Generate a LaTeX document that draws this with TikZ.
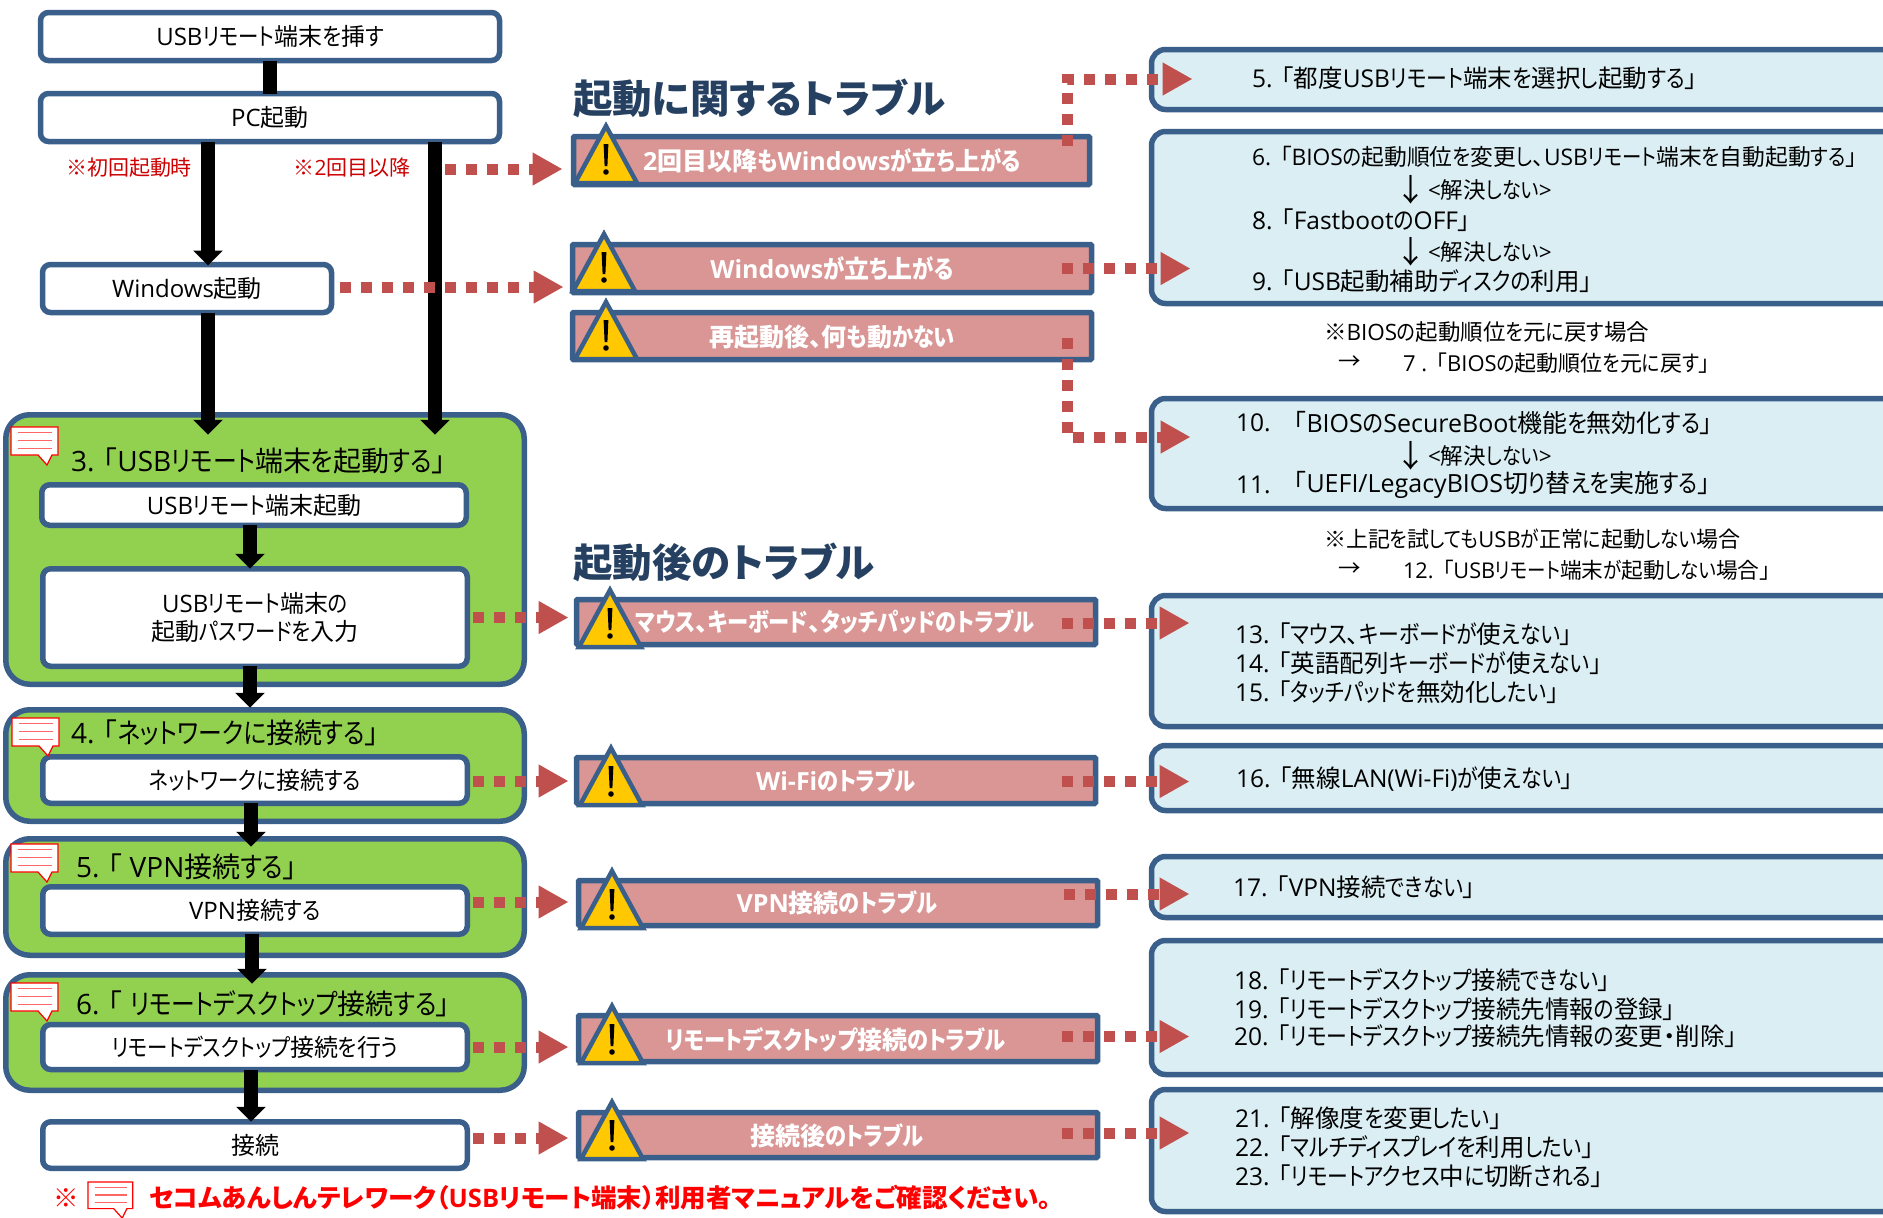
\documentclass[tikz,border=0pt]{standalone}
\usepackage{fontspec}
\usetikzlibrary{arrows.meta}
\setmainfont{Open Sans}
\newfontfamily\lat{Open Sans}
\newfontfamily\jp[RawFeature=+palt]{Noto Sans CJK JP}
\newfontfamily\jk[RawFeature=+palt,FakeStretch=0.85]{Noto Sans CJK JP}
\let\kn\jk
\XeTeXinterchartokenstate=1
\chardef\cjkc=5
\chardef\knc=6
\newcount\cc
\cc="3000 \loop \XeTeXcharclass\cc=\cjkc \ifnum\cc<"9FFF \advance\cc 1 \repeat
\cc="FF00 \loop \XeTeXcharclass\cc=\cjkc \ifnum\cc<"FFEF \advance\cc 1 \repeat
\cc="3041 \loop \XeTeXcharclass\cc=\knc \ifnum\cc<"30FF \advance\cc 1 \repeat
\XeTeXcharclass"30FB=\cjkc
\XeTeXcharclass"203B=\cjkc
\XeTeXcharclass"2192=\cjkc
\XeTeXcharclass"2193=\cjkc
\XeTeXinterchartoks 0 \cjkc={\jp}
\XeTeXinterchartoks 4095 \cjkc={\jp}
\XeTeXinterchartoks \cjkc 0={\lat}
\XeTeXinterchartoks \cjkc 4095={\lat}
\XeTeXinterchartoks 0 \knc={\kn}
\XeTeXinterchartoks 4095 \knc={\kn}
\XeTeXinterchartoks \knc 0={\lat}
\XeTeXinterchartoks \knc 4095={\lat}
\XeTeXinterchartoks \cjkc \knc={\kn}
\XeTeXinterchartoks \knc \cjkc={\jp}
\definecolor{bl}{HTML}{3A5F8B}
\definecolor{grn}{HTML}{92D050}
\definecolor{pnk}{HTML}{D99694}
\definecolor{lb}{HTML}{DAEEF3}
\definecolor{rd}{HTML}{C0504D}
\definecolor{ttl}{HTML}{254061}
\definecolor{wy}{HTML}{FFC800}
\newcommand{\fs}[1]{\fontsize{#1}{#1}\selectfont}
\newcommand{\gp}{\hspace{9pt}}
\tikzset{
 every node/.style={inner sep=0pt,outer sep=0pt,text=black},
 whitebox/.style={draw=bl,line width=5.5pt,fill=white,rounded corners=8pt,font=\fs{24}},
 greenbox/.style={draw=bl,line width=5.5pt,fill=grn,rounded corners=24pt},
 barbox/.style={draw=bl,line width=5.5pt,fill=pnk,rounded corners=1pt},
 bluebox/.style={draw=bl,line width=5.5pt,fill=lb,rounded corners=14pt},
 txt/.style={anchor=west,font=\fs{24.5}},
 notetxt/.style={anchor=west,font=\fs{22.5}},
 arrowtxt/.style={anchor=center,font=\fs{31}},
 grouptxt/.style={anchor=west,font=\fs{28}},
 title/.style={anchor=west,font=\let\kn\jp\fs{39.5}\bfseries,text=ttl},
 redlab/.style={font=\fs{21},text=red!80!black},
 note/.style={anchor=west,font=\let\kn\jp\fs{25.5}\bfseries,text=red},
 bt/.style={font=\fs{25}\bfseries,text=white},
 blk/.style={line width=14pt,draw=black,-{Triangle[length=15pt,width=29pt]}},
 blkplain/.style={line width=14pt,draw=black},
 dotarrow/.style={line width=11pt,draw=rd,dash pattern=on 11pt off 10pt,-{Triangle[length=30pt,width=31pt]}},
}
\newcounter{tt}
\newcommand{\tl}[3]{\stepcounter{tt}\node[txt] (t\arabic{tt}) at (#1,#2) {#3};}
\newcommand{\nl}[3]{\stepcounter{tt}\node[notetxt] (t\arabic{tt}) at (#1,#2) {#3};}
\newcommand{\dn}[1]{\stepcounter{tt}\node[arrowtxt] (t\arabic{tt}) at (1411,#1) {↓};\stepcounter{tt}\node[notetxt] (t\arabic{tt}) at (1428,#1) {<解決しない>};}
% warning triangle: apex x, apex y
\newcommand{\warn}[2]{\begin{scope}[shift={(#1,#2)}]
 \draw[draw=bl,line width=4.5pt,fill=wy,line join=miter] (0,0) -- (31,57) -- (-31,57) -- cycle;
 \fill[black] (-2.4,18) -- (2.4,18) -- (1.4,40) -- (-1.4,40) -- cycle;
 \fill[black] (0,46) circle (2.8);
\end{scope}}
% comment icon: top-left x, y, scale
\newcommand{\icon}[3]{\begin{scope}[shift={(#1,#2)},scale=#3]
 \draw[draw=red,line width=1.2pt,fill=white] (0,0) -- (47,0) -- (47,28) -- (41,28) -- (36,38) -- (27,28) -- (0,28) -- cycle;
 \draw[draw=red!60,line width=1.4pt] (7,5.5) -- (41,5.5) (7,13.5) -- (41,13.5) (7,21.5) -- (41,21.5);
\end{scope}}
\begin{document}
\begin{tikzpicture}[x=1pt,y=-1pt]
\clip[use as bounding box] (0,0) rectangle (1883,1218);
% green groups
\node[greenbox,minimum width=518.5pt,minimum height=269.5pt] (g1) at (265,549.5) {};
\node[greenbox,minimum width=518.5pt,minimum height=111.5pt] (g2) at (265,765.5) {};
\node[greenbox,minimum width=518.5pt,minimum height=116.5pt] (g3) at (265,897) {};
\node[greenbox,minimum width=518.5pt,minimum height=115.5pt] (g4) at (265,1032.5) {};
% flow boxes
\node[whitebox,minimum width=459pt,minimum height=48pt] (usb) at (270,36.5) {USBリモート端末を挿す};
\node[whitebox,minimum width=459pt,minimum height=48pt] (pc) at (270,117.5) {PC起動};
\node[whitebox,minimum width=289pt,minimum height=48pt] (win) at (187,288.5) {Windows起動};
\node[whitebox,minimum width=424.5pt,minimum height=40.5pt] (start) at (254,505) {USBリモート端末起動};
\node[whitebox,minimum width=424.5pt,minimum height=97.5pt,align=center] (pwd) at (255,617.5) {USBリモート端末の\\[4pt]起動パスワードを入力};
\node[whitebox,minimum width=424.5pt,minimum height=46.5pt] (net) at (255,780) {ネットワークに接続する};
\node[whitebox,minimum width=424.5pt,minimum height=47.5pt] (vpn) at (255,910.5) {VPN接続する};
\node[whitebox,minimum width=424.5pt,minimum height=45pt] (rdp) at (255,1047) {リモートデスクトップ接続を行う};
\node[whitebox,minimum width=424.5pt,minimum height=46.5pt] (conn) at (255,1145) {接続};
% black connectors
\draw[blkplain] (usb.south) -- (pc.north);
\draw[blk] ([xshift=-62pt]pc.south) -- ([xshift=21pt,yshift=-1pt]win.north);
\draw[blk] ([xshift=21pt]win.south) -- ([xshift=-57pt,yshift=-20pt]g1.north);
\draw[blk] ([xshift=165pt]pc.south) -- ([xshift=170pt,yshift=-20pt]g1.north);
\draw[blk] ([xshift=-4pt]start.south) -- ([xshift=-5pt]pwd.north);
\draw[blk] ([xshift=-5pt]pwd.south) -- ([xshift=-15pt,yshift=2pt]g2.north);
\draw[blk] ([xshift=-4pt]net.south) -- ([xshift=-14pt,yshift=-8pt]g3.north);
\draw[blk] ([xshift=-3pt]vpn.south) -- ([xshift=-13pt,yshift=-9pt]g4.north);
\draw[blk] ([xshift=-4pt]rdp.south) -- ([xshift=-4pt]conn.north);
% group titles
\node[grouptxt] (g1t) at (71,461) {3.\gp「USBリモート端末を起動する」};
\node[grouptxt] (g2t) at (71,733) {4.\gp「ネットワークに接続する」};
\node[grouptxt] (g3t) at (76,867) {5.\gp「 VPN接続する」};
\node[grouptxt] (g4t) at (76,1004) {6.\gp「 リモートデスクトップ接続する」};
\icon{11}{427}{1}\icon{12}{718}{1}\icon{11}{844}{1}\icon{11}{983}{1}
% red labels
\node[redlab] (l1) at (129,168) {※初回起動時};
\node[redlab] (l2) at (352,168) {※2回目以降};
% titles
\node[title] (h1) at (573,98) {起動に関するトラブル};
\node[title] (h2) at (573,562) {起動後のトラブル};
% trouble bars
\node[barbox,minimum width=516pt,minimum height=48pt] (b1) at (831.5,160.5) {};
\node[barbox,minimum width=519pt,minimum height=48pt] (b2) at (832,268.5) {};
\node[barbox,minimum width=519pt,minimum height=47pt] (b3) at (832,336) {};
\node[barbox,minimum width=519pt,minimum height=45pt] (b4) at (836,622) {};
\node[barbox,minimum width=519pt,minimum height=46pt] (b5) at (836,780.5) {};
\node[barbox,minimum width=519pt,minimum height=45pt] (b6) at (838,903) {};
\node[barbox,minimum width=519pt,minimum height=46pt] (b7) at (838,1038.5) {};
\node[barbox,minimum width=519pt,minimum height=45pt] (b8) at (838,1135) {};
\warn{606}{126}\warn{604}{234}\warn{606}{302}\warn{610}{590}\warn{611}{748}\warn{612}{871}\warn{612}{1006}\warn{612}{1102}
\node[bt] (bt1) at (832,161) {2回目以降もWindowsが立ち上がる};
\node[bt] (bt2) at (832,269) {Windowsが立ち上がる};
\node[bt] (bt3) at (832,337) {再起動後、何も動かない};
\node[bt] (bt4) at (835,622) {マウス、キーボード、タッチパッドのトラブル};
\node[bt] (bt5) at (836,780) {Wi-Fiのトラブル};
\node[bt] (bt6) at (837,903) {VPN接続のトラブル};
\node[bt] (bt7) at (836,1040) {リモートデスクトップ接続のトラブル};
\node[bt] (bt8) at (837,1136) {接続後のトラブル};
% solution boxes
\node[bluebox,minimum width=798.5pt,minimum height=60pt] (r1) at (1550.75,79.5) {};
\node[bluebox,minimum width=798.5pt,minimum height=172pt] (r2) at (1550.75,217.5) {};
\node[bluebox,minimum width=798.5pt,minimum height=110pt] (r3) at (1550.75,453.5) {};
\node[bluebox,minimum width=798.5pt,minimum height=131pt] (r4) at (1550.75,661) {};
\node[bluebox,minimum width=798.5pt,minimum height=65pt] (r5) at (1550.75,778) {};
\node[bluebox,minimum width=798.5pt,minimum height=61pt] (r6) at (1550.75,887) {};
\node[bluebox,minimum width=798.5pt,minimum height=134pt] (r7) at (1550.75,1007.5) {};
\node[bluebox,minimum width=798.5pt,minimum height=122pt] (r8) at (1550.75,1150.5) {};
% solution text
\tl{1252}{78}{5.\gp「都度USBリモート端末を選択し起動する」}
\tl{1252}{157}{\fs{22.8}6.\gp「BIOSの起動順位を変更し、USBリモート端末を自動起動する」}
\dn{190}
\tl{1252}{220}{8.\gp「FastbootのOFF」}
\dn{252}
\tl{1252}{281}{9.\gp「USB起動補助ディスクの利用」}
\nl{1324}{332}{※BIOSの起動順位を元に戻す場合}
\nl{1338}{363}{→}
\nl{1403}{363}{\fs{22}7 .\gp「BIOSの起動順位を元に戻す」}
\tl{1236}{423}{10.}
\tl{1294}{423}{\fs{25}「BIOSのSecureBoot機能を無効化する」}
\dn{456}
\tl{1236}{485}{11.}
\tl{1294}{485}{\fs{25}「UEFI/LegacyBIOS切り替えを実施する」}
\nl{1324}{539}{\fs{22}※上記を試してもUSBが正常に起動しない場合}
\nl{1338}{570}{→}
\nl{1403}{570}{\fs{21.7}12.\gp「USBリモート端末が起動しない場合」}
\tl{1235}{634}{13.\gp「マウス、キーボードが使えない」}
\tl{1235}{663}{14.\gp「英語配列キーボードが使えない」}
\tl{1235}{692}{15.\gp「タッチパッドを無効化したい」}
\tl{1236}{779}{16.\gp「無線LAN(Wi-Fi)が使えない」}
\tl{1233}{887}{17.\gp「VPN接続できない」}
\tl{1234}{980}{18.\gp「リモートデスクトップ接続できない」}
\tl{1234}{1009}{19.\gp「リモートデスクトップ接続先情報の登録」}
\tl{1234}{1036}{20.\gp「リモートデスクトップ接続先情報の変更・削除」}
\tl{1235}{1118}{21.\gp「解像度を変更したい」}
\tl{1235}{1147}{22.\gp「マルチディスプレイを利用したい」}
\tl{1235}{1176}{23.\gp「リモートアクセス中に切断される」}
% dotted connectors
\coordinate (pcdot) at (445,169);
\coordinate (c1a) at (1067,146);
\coordinate (c1b) at (1067,79);
\coordinate (c3a) at (1067,338);
\coordinate (c3b) at (1067,437);
\draw[dotarrow,shorten >=11pt] (pcdot) -- (pcdot -| b1.west);
\draw[dotarrow,shorten >=9pt,shorten <=8pt] ([yshift=1.5pt]win.east) -- ([yshift=1.5pt]win.east -| b2.west);
\draw[dotarrow,shorten >=8pt,shorten <=6pt] (pwd.east) -- (pwd.east -| b4.west);
\draw[dotarrow,shorten >=8pt,shorten <=6pt] ([yshift=-1pt]net.east) -- ([yshift=-1pt]net.east -| b5.west);
\draw[dotarrow,shorten >=10pt,shorten <=6pt] ([yshift=8.5pt]vpn.east) -- ([yshift=8.5pt]vpn.east -| b6.west);
\draw[dotarrow,shorten >=10pt,shorten <=6pt] (rdp.east) -- (rdp.east -| b7.west);
\draw[dotarrow,shorten >=10pt,shorten <=6pt] ([yshift=7pt]conn.east) -- ([yshift=7pt]conn.east -| b8.west);
\draw[dotarrow] (c1a) -- (c1b) -- ([xshift=41pt]c1b -| r1.west);
\draw[dotarrow] ([xshift=-30pt]b2.east) -- ([xshift=39pt]b2.east -| r2.west);
\draw[dotarrow] (c3a) -- (c3b) -- ([xshift=39pt]c3b -| r3.west);
\draw[dotarrow] ([xshift=-34pt,yshift=-1pt]b4.east) -- ([xshift=38pt,yshift=-1pt]b4.east -| r4.west);
\draw[dotarrow] ([xshift=-34pt,yshift=-1pt]b5.east) -- ([xshift=38pt,yshift=-1pt]b5.east -| r5.west);
\draw[dotarrow] ([xshift=-34pt,yshift=9pt]b6.east) -- ([xshift=38pt,yshift=9pt]b6.east -| r6.west);
\draw[dotarrow] ([xshift=-36pt,yshift=2pt]b7.east) -- ([xshift=38pt,yshift=2pt]b7.east -| r7.west);
\draw[dotarrow] ([xshift=-36pt,yshift=2pt]b8.east) -- ([xshift=38pt,yshift=2pt]b8.east -| r8.west);
% footer
\node[note] (n0) at (53,1198) {※};
\icon{88}{1182}{0.95}
\node[note] (n1) at (149,1198) {セコムあんしんテレワーク（USBリモート端末）利用者マニュアルをご確認ください。};
\end{tikzpicture}
\end{document}
